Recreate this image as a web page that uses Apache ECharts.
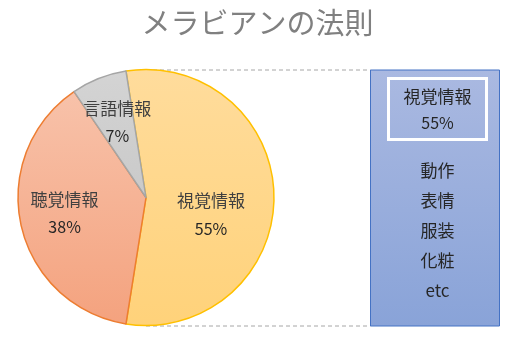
<!DOCTYPE html>
<html>
<head>
<meta charset="utf-8">
<script src="https://cdn.jsdelivr.net/npm/echarts@6/dist/echarts.min.js"></script>
<style>
  html, body { margin: 0; padding: 0; background: #fff; }
  #chart { width: 515px; height: 344px; }
</style>
</head>
<body>
<div id="chart"></div>
<script>
// Mehrabian's rule: share of each communication channel (%)
const categories = ['視覚情報', '聴覚情報', '言語情報'];
const shares = [55, 38, 7];
// Visual cues listed in the side panel
const visualCues = ['動作', '表情', '服装', '化粧', 'etc'];

const FONT = '"Noto Sans CJK JP", "Noto Sans", sans-serif';
const TEXT = '#404040';

// Pie geometry
const cx = 146, cy = 197.5, R = 128;
const pieTop = cy - R, pieBottom = cy + R;

function vGrad(c0, c1) {
  return {
    type: 'linear', x: 0, y: pieTop, x2: 0, y2: pieBottom, global: true,
    colorStops: [{ offset: 0, color: c0 }, { offset: 1, color: c1 }]
  };
}

const sliceStyles = [
  { fill: vGrad('#FFDC9C', '#FFD27A'), border: '#FFC000' },
  { fill: vGrad('#F8C5AE', '#F4A27E'), border: '#ED7D31' },
  { fill: vGrad('#D4D4D4', '#BFBFBF'), border: '#A5A5A5' }
];

// Label nudges from the default inside position
const labelShift = [[-2, 17], [-16, 1], [-4, -13]];

// Side panel geometry
const panel = { x: 370.5, y: pieTop + 0.5, w: 129, h: 2 * R };
const panelGrad = {
  type: 'linear', x: 0, y: 0, x2: 0, y2: 1,
  colorStops: [{ offset: 0, color: '#AAB9E1' }, { offset: 1, color: '#89A3D8' }]
};
const boxCx = 437.5;

const graphics = [
  // dashed connectors from the pie's top and bottom to the panel
  { type: 'line', z: -1, shape: { x1: cx, y1: pieTop + 0.5, x2: panel.x, y2: pieTop + 0.5 },
    style: { stroke: '#A6A6A6', lineWidth: 1, lineDash: [4, 3] } },
  { type: 'line', z: -1, shape: { x1: cx, y1: pieBottom + 0.5, x2: panel.x, y2: pieBottom + 0.5 },
    style: { stroke: '#A6A6A6', lineWidth: 1, lineDash: [4, 3] } },
  { type: 'rect', shape: { x: panel.x, y: panel.y, width: panel.w, height: panel.h },
    style: { fill: panelGrad, stroke: '#4472C4', lineWidth: 1 } },
  { type: 'rect', shape: { x: 388.5, y: 78.5, width: 98, height: 61 },
    style: { fill: 'transparent', stroke: '#FFFFFF', lineWidth: 3 } },
  { type: 'text', x: boxCx, y: 97,
    style: { text: categories[0], font: '17px ' + FONT, fill: '#262626', align: 'center', verticalAlign: 'middle' } },
  { type: 'text', x: boxCx, y: 123,
    style: { text: shares[0] + '%', font: '16px ' + FONT, fill: '#262626', align: 'center', verticalAlign: 'middle' } }
];
visualCues.forEach(function (t, i) {
  graphics.push({
    type: 'text', x: boxCx, y: 171 + i * 30,
    style: { text: t, font: '17px ' + FONT, fill: '#262626', align: 'center', verticalAlign: 'middle' }
  });
});

const chart = echarts.init(document.getElementById('chart'), null, { renderer: 'canvas' });
chart.setOption({
  animation: false,
  title: {
    text: 'メラビアンの法則',
    left: 'center', top: 3,
    textStyle: { fontFamily: FONT, fontSize: 29, fontWeight: 'normal', color: '#808080' }
  },
  series: [{
    type: 'pie',
    center: [cx, cy],
    radius: [0, R],
    startAngle: 99,
    clockwise: true,
    avoidLabelOverlap: false,
    label: {
      show: true,
      position: 'inside',
      formatter: '{n|{b}}\n{v|{c}%}',
      fontFamily: FONT,
      color: TEXT,
      rich: {
        n: { fontFamily: FONT, fontSize: 17, lineHeight: 28, color: TEXT },
        v: { fontFamily: FONT, fontSize: 16, lineHeight: 28, color: '#262626' }
      }
    },
    labelLine: { show: false },
    labelLayout: function (p) {
      const s = labelShift[p.dataIndex];
      return { dx: s[0], dy: s[1] };
    },
    emphasis: { disabled: true },
    data: categories.map(function (name, i) {
      return {
        name: name,
        value: shares[i],
        itemStyle: { color: sliceStyles[i].fill, borderColor: sliceStyles[i].border, borderWidth: 1.5 }
      };
    })
  }],
  graphic: { elements: graphics }
});
</script>
</body>
</html>
